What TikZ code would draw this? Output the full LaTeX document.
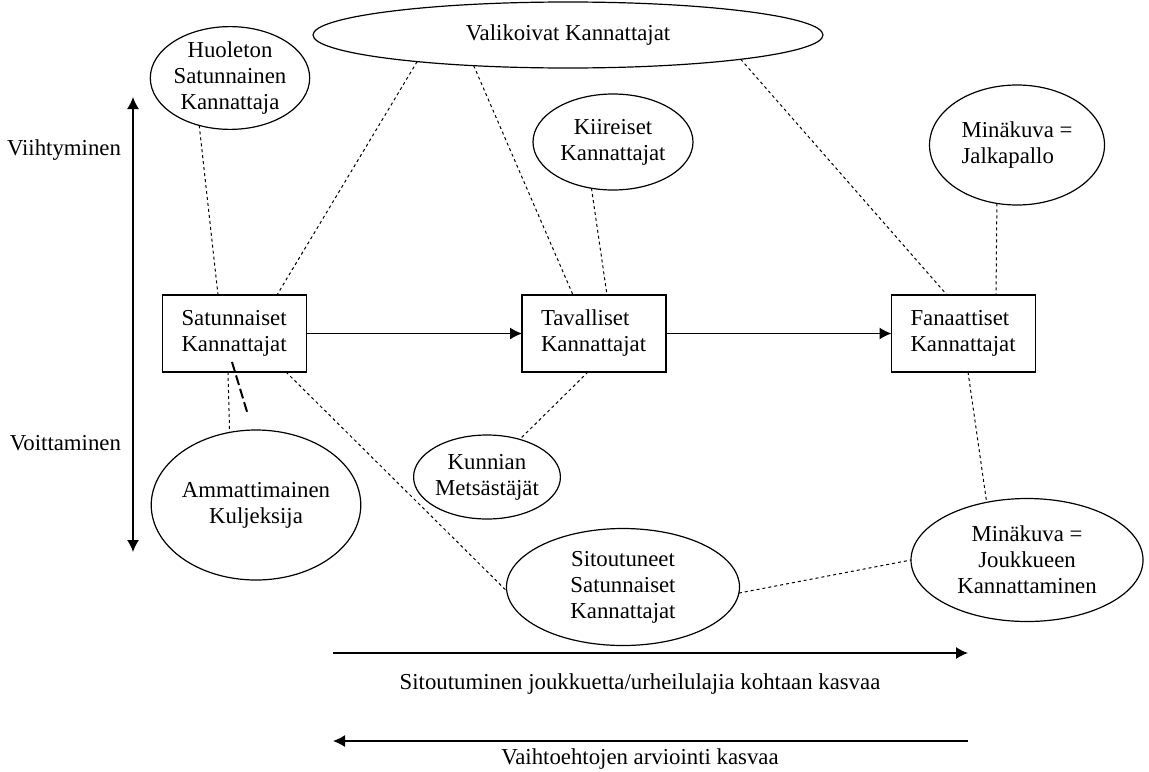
\documentclass[tikz,border=0pt]{standalone}
\usepackage{fontspec}
\setmainfont{Liberation Serif}
\usetikzlibrary{shapes, arrows.meta, positioning}
\tikzstyle{ryhma} = [draw, rectangle, line width=0.8pt, text width=53pt, inner xsep=9.5pt, inner ysep=0pt, minimum height=38.5pt, align=left, outer sep=0pt]
\tikzstyle{alaryhma} = [draw, ellipse, line width=0.6pt, inner sep=0pt, outer sep=0pt, align=center]
\tikzstyle{yhteys} = [line width=0.5pt, dash pattern=on 1.5pt off 1.5pt]
\tikzstyle{nuoli} = [line width=0.7pt, -{Latex[length=6pt,width=6pt]}]

\begin{document}
\begin{tikzpicture}[x=0.5pt, y=-0.5pt, font=\fontsize{11.4}{13}\selectfont]
	\useasboundingbox (0,0) rectangle (1149,771);
	% kannattajaryhmat
	\node [ryhma] (sat) at (234.5,333.5) {Satunnaiset\\Kannattajat};
	\node [ryhma] (tav) at (594,333.5) {Tavalliset\\Kannattajat};
	\node [ryhma] (fan) at (963.5,333.5) {Fanaattiset\\Kannattajat};
	% alaryhmat
	\node [alaryhma, minimum width=78pt, minimum height=48pt] (huol) at (230,78) {Huoleton\\Satunnainen\\Kannattaja};
	\node [alaryhma, minimum width=255pt, minimum height=33pt] (valik) at (568,35) {Valikoivat Kannattajat};
	\node [alaryhma, minimum width=80pt, minimum height=48pt] (kiir) at (613,142) {Kiireiset\\Kannattajat};
	\node [alaryhma, minimum width=87.5pt, minimum height=60pt, align=left] (jalka) at (1017,145) {Minäkuva =\\Jalkapallo};
	\node [alaryhma, minimum width=84pt, minimum height=75pt] (ammat) at (256,505) {Ammattimainen\\Kuljeksija};
	\node [alaryhma, minimum width=70pt, minimum height=42pt] (kunn) at (487,477) {Kunnian\\Metsästäjät};
	\node [alaryhma, minimum width=116.5pt, minimum height=58.5pt] (sitout) at (623,587) {Sitoutuneet\\Satunnaiset\\Kannattajat};
	\node [alaryhma, minimum width=116pt, minimum height=61.5pt] (joukk) at (1027,560) {Minäkuva =\\Joukkueen\\Kannattaminen};
	% akselit
	\node [anchor=east] (viiht) at (128,150) {Viihtyminen};
	\node [anchor=east] (voitt) at (128,443) {Voittaminen};
	\coordinate (ylos) at (133,97);
	\coordinate (alas) at (133,552);
	\draw [nuoli, {Latex[length=6pt,width=6pt]}-{Latex[length=6pt,width=6pt]}] (ylos) -- (alas);
	\coordinate (sit1) at (333,653);
	\coordinate (sit2) at (968,653);
	\draw [nuoli] (sit1) -- (sit2);
	\node (sitlabel) at (640,684) {Sitoutuminen joukkuetta/urheilulajia kohtaan kasvaa};
	\coordinate (vai1) at (968,741);
	\coordinate (vai2) at (333,741);
	\draw [nuoli] (vai1) -- (vai2);
	\node (vailabel) at (640,759) {Vaihtoehtojen arviointi kasvaa};
	% nuolet
	\draw [nuoli] (sat) -- (tav);
	\draw [nuoli] (tav) -- (fan);
	% yhteydet
	\draw [yhteys] (huol.237) -- ([xshift=-8.25pt]sat.north);
	\draw [yhteys] (valik.190) -- ([xshift=21.25pt]sat.north);
	\draw [yhteys] (valik.198) -- ([xshift=-10.5pt]tav.north);
	\draw [yhteys] (valik.352) -- ([xshift=-8.25pt]fan.north);
	\draw [yhteys] (kiir.245) -- ([xshift=6.5pt]tav.north);
	\draw [yhteys] (jalka.251) -- ([xshift=16.25pt]fan.north);
	\draw [yhteys] ([xshift=-3.25pt]sat.south) -- (ammat.110);
	\draw [yhteys] ([xshift=25.75pt]sat.south) -- (sitout.182);
	\draw [yhteys] ([xshift=-3pt]tav.south) -- (kunn.49);
	\draw [yhteys] ([xshift=2.25pt]fan.south) -- (joukk.125);
	\draw [yhteys] (sitout.357) -- (joukk.180);
	\coordinate (viiva) at (248,415);
	\draw [line width=1pt, dash pattern=on 5pt off 2pt] ([xshift=-1.25pt,yshift=5pt]sat.south) -- (viiva);
\end{tikzpicture}
\end{document}
